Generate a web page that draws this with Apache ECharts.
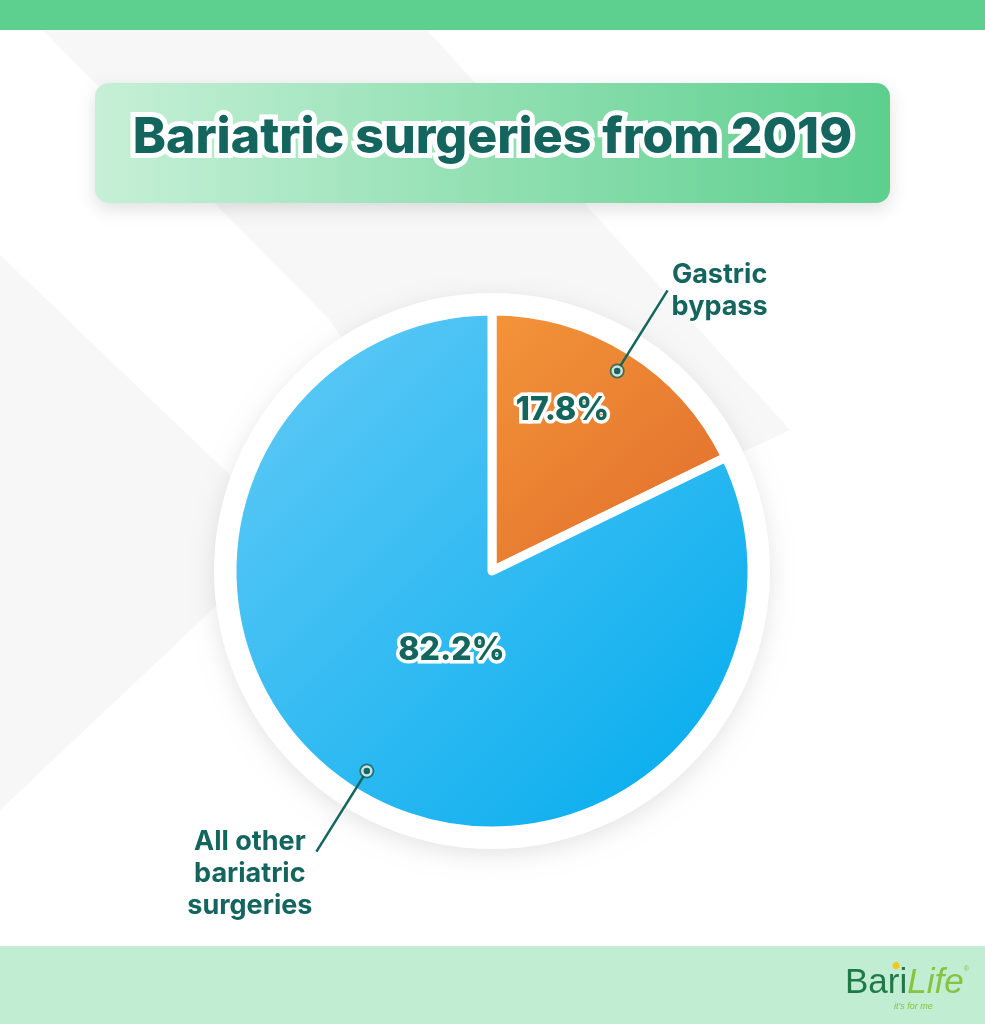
<!DOCTYPE html>
<html><head><meta charset="utf-8">
<script src="https://cdn.jsdelivr.net/npm/echarts@6/dist/echarts.min.js"></script>
<style>html,body{margin:0;padding:0;background:#fff}#chart{width:985px;height:1024px}</style>
</head><body><div id="chart"></div>
<script>
// ---- data ----
const titleText = 'Bariatric surgeries from 2019';
const categories = ['Gastric bypass', 'All other bariatric surgeries'];
const categoryLabels = ['Gastric\nbypass', 'All other\nbariatric\nsurgeries'];
const shares = [17.8, 82.2];

// ---- style ----
const TEAL = '#13655e';
const FONT = 'Inter, "Noto Sans", sans-serif';
const CX = 492, CY = 571, R = 260, DOT_R = 236;

const sliceColors = [
  new echarts.graphic.LinearGradient(0, 0, 1, 1, [{offset: 0, color: '#f3953a'}, {offset: 1, color: '#e06c2a'}]),
  new echarts.graphic.LinearGradient(0, 0, 1, 1, [{offset: 0, color: '#64cbf6'}, {offset: 1, color: '#00abee'}])
];

const total = shares.reduce((a, b) => a + b, 0);
const mids = shares.map((v, i) => shares.slice(0, i).reduce((a, b) => a + b, 0) + v / 2);

const pieData = categories.map((name, i) => ({name: name, value: shares[i], itemStyle: {color: sliceColors[i]}}));
const nameData = categories.map((name, i) => ({
  name: name, value: shares[i],
  label: i === 1 ? {padding: [44, 0, 0, 0]} : {}
}));

const chart = echarts.init(document.getElementById('chart'), null, {renderer: 'canvas'});
chart.setOption({
  animation: false,
  backgroundColor: '#ffffff',
  title: {
    text: titleText,
    left: 'center',
    top: 108,
    textStyle: {
      fontFamily: FONT, fontSize: 50, fontWeight: 800, color: TEAL,
      textBorderColor: '#ffffff', textBorderWidth: 10
    }
  },
  graphic: [
    // background shading
    {type: 'polygon', silent: true, z: -10,
     shape: {points: [[43, 30], [427, 30], [790, 430], [492, 571], [330, 320]]},
     style: {fill: '#f7f7f7'}},
    {type: 'polygon', silent: true, z: -10,
     shape: {points: [[0, 255], [240, 485], [492, 571], [233, 590], [0, 810]]},
     style: {fill: '#f7f7f7'}},
    // top bar / bottom band
    {type: 'rect', silent: true, z: -5, shape: {x: 0, y: 0, width: 985, height: 30}, style: {fill: '#5dcf8e'}},
    {type: 'rect', silent: true, z: -5, shape: {x: 0, y: 946, width: 985, height: 78}, style: {fill: '#c1eed3'}},
    // title box
    {type: 'rect', silent: true, z: -4,
     shape: {x: 95, y: 83, width: 795, height: 120, r: 14},
     style: {
       fill: new echarts.graphic.LinearGradient(0, 0, 1, 0, [{offset: 0, color: '#c6f0d7'}, {offset: 1, color: '#5ccf8d'}]),
       shadowBlur: 18, shadowColor: 'rgba(0,0,0,0.12)', shadowOffsetY: 6
     }},
    // white ring behind pie
    {type: 'circle', silent: true, z: -3,
     shape: {cx: CX, cy: CY, r: 278},
     style: {fill: '#ffffff', shadowBlur: 22, shadowColor: 'rgba(0,0,0,0.10)', shadowOffsetY: 6}},
    // logo
    {type: 'text', silent: true, z: 5, x: 845, y: 966,
     style: {
       text: '{b|Bari}{l|Life}{r|®}',
       rich: {
         b: {fontFamily: '"Liberation Sans", sans-serif', fontSize: 35, fill: '#1e7b48'},
         l: {fontFamily: '"Liberation Sans", sans-serif', fontSize: 35, fontStyle: 'italic', fill: '#85c341'},
         r: {fontFamily: 'sans-serif', fontSize: 7, fill: '#85c341', verticalAlign: 'top'}
       }
     }},
    {type: 'text', silent: true, z: 5, x: 894, y: 1002,
     style: {text: "it's for me", fontFamily: '"Liberation Sans", sans-serif', fontSize: 9, fontStyle: 'italic', fill: '#85c341'}},
    {type: 'text', silent: true, z: 5, x: 891, y: 961,
     style: {text: '✹', fontSize: 12, fill: '#f5c518'}}
  ],
  polar: {center: [CX, CY], radius: DOT_R},
  angleAxis: {type: 'value', min: 0, max: total, startAngle: 90, clockwise: true, show: false},
  radiusAxis: {type: 'value', min: 0, max: 1, show: false},
  series: [
    {
      type: 'pie',
      center: [CX, CY],
      radius: [0, R],
      startAngle: 90,
      clockwise: true,
      silent: true,
      z: 2,
      itemStyle: {borderColor: '#ffffff', borderWidth: 9},
      data: pieData,
      label: {
        position: 'inside',
        formatter: p => shares[p.dataIndex].toFixed(1) + '%',
        fontFamily: FONT, fontSize: 32, fontWeight: 800, color: TEAL,
        textBorderColor: '#ffffff', textBorderWidth: 7
      },
      labelLine: {show: false},
      labelLayout: p => p.dataIndex === 0 ? {dy: -48} : {dx: 30, dy: -33},
      emphasis: {disabled: true}
    },
    {
      type: 'pie',
      center: [CX, CY],
      radius: [0, DOT_R],
      startAngle: 90,
      clockwise: true,
      silent: true,
      z: 3,
      itemStyle: {color: 'rgba(0,0,0,0)', borderWidth: 0},
      data: nameData,
      label: {
        position: 'outside',
        alignTo: 'none',
        distanceToLabelLine: 4,
        formatter: p => categoryLabels[p.dataIndex].split('\n').map(s => '{t|' + s + '}').join('\n'),
        rich: {t: {fontFamily: FONT, fontSize: 27, fontWeight: 700, color: TEAL, lineHeight: 32, align: 'center'}}
      },
      labelLine: {show: true, length: 95, length2: 0, smooth: false, lineStyle: {color: TEAL, width: 2.5}},
      emphasis: {disabled: true}
    },
    {
      type: 'scatter', coordinateSystem: 'polar', silent: true, z: 4,
      symbol: 'circle', symbolSize: 15,
      itemStyle: {color: TEAL},
      data: mids.map(m => [1, m])
    },
    {
      type: 'scatter', coordinateSystem: 'polar', silent: true, z: 5,
      symbol: 'circle', symbolSize: 9,
      itemStyle: {color: TEAL, borderColor: '#ffffff', borderWidth: 2.5},
      data: mids.map(m => [1, m])
    }
  ]
});
</script>
</body></html>
